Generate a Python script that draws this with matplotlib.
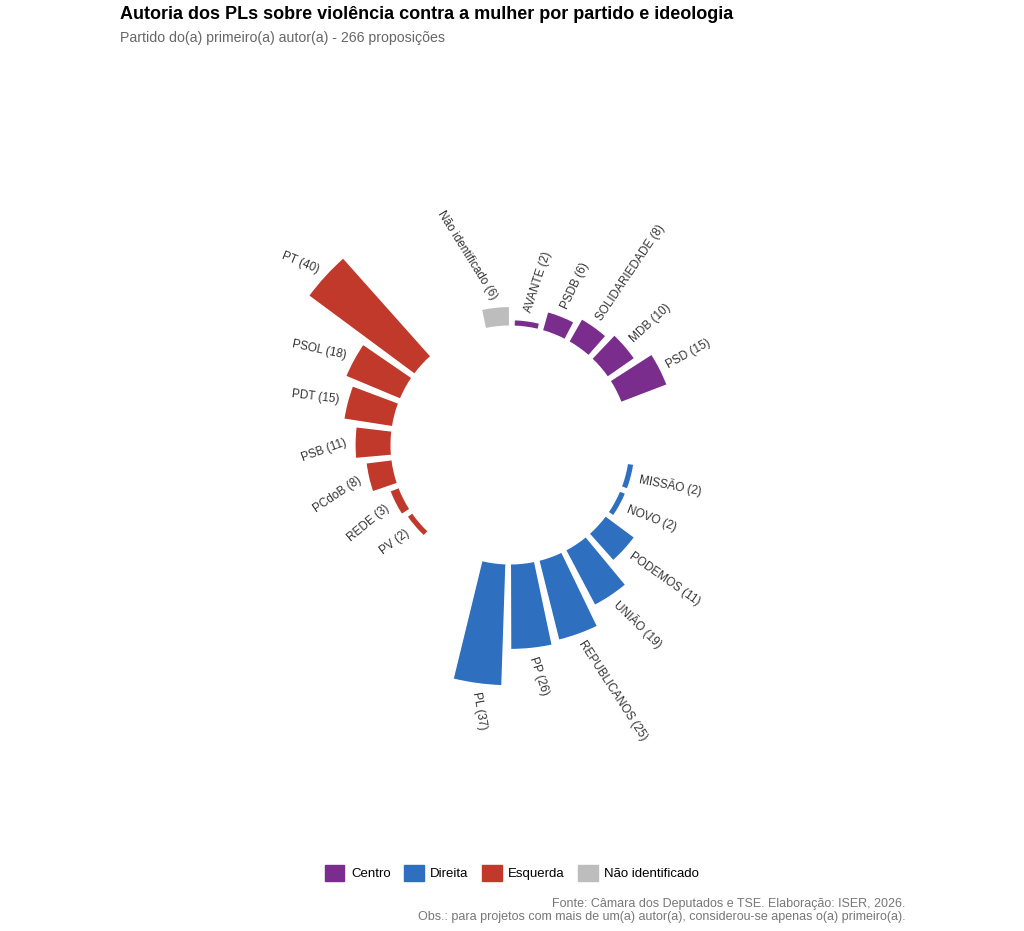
import numpy as np
import matplotlib
matplotlib.use("Agg")
import matplotlib.pyplot as plt
from matplotlib.patches import Patch

plt.rcParams["font.family"] = ["Liberation Sans", "DejaVu Sans"]

partidos = ["AVANTE", "PSDB", "SOLIDARIEDADE", "MDB", "PSD",
            "MISSÃO", "NOVO", "PODEMOS", "UNIÃO", "REPUBLICANOS", "PP", "PL",
            "PV", "REDE", "PCdoB", "PSB", "PDT", "PSOL", "PT",
            "Não identificado"]
valores = [2, 6, 8, 10, 15,
           2, 2, 11, 19, 25, 26, 37,
           2, 3, 8, 11, 15, 18, 40,
           6]
grupos = ["Centro"] * 5 + ["Direita"] * 7 + ["Esquerda"] * 7 + ["Não identificado"]
cores = {"Centro": "#7B2D8E", "Direita": "#2E6FBF",
         "Esquerda": "#C0392B", "Não identificado": "#BDBDBD"}
# // inclinacao dos rotulos (graus), como no grafico original
rotacoes = [72, 65, 56, 43, 29,
            -11, -21, -35, -44, -57, -72, -80,
            37, 40, 34, 20, -7, -12, -22,
            -58]

# // posicoes: dois espacos vazios depois de cada grupo
slots = []
pos = 0
for i, g in enumerate(grupos):
    if i > 0 and g != grupos[i - 1]:
        pos += 2
    slots.append(pos)
    pos += 1
n_slots = pos
passo = 2 * np.pi / n_slots
inicio = np.deg2rad(7.8)
angulos = inicio + np.array(slots) * passo

base = 36
fig = plt.figure(figsize=(10.24, 9.31), dpi=100)
R = 100
ax = fig.add_axes([(510 - 330) / 1024, (931 - 445 - 330) / 931, 660 / 1024, 660 / 931],
                  projection="polar")
ax.set_theta_zero_location("N")
ax.set_theta_direction(-1)
ax.set_ylim(0, R)
ax.axis("off")

ax.bar(angulos, valores, width=passo * 0.85, bottom=base,
       color=[cores[g] for g in grupos], edgecolor="white", linewidth=1)

for a, v, p, rot in zip(angulos, valores, partidos, rotacoes):
    graus = np.rad2deg(a) % 360
    ha = "left" if graus < 200 else "right"
    ax.text(a, base + v + 2.5, f"{p} ({v})", rotation=rot, rotation_mode="anchor",
            ha=ha, va="center", fontsize=8.5, color="#333333")

fig.text(120 / 1024, 1 - 6 / 931, "Autoria dos PLs sobre violência contra a mulher por partido e ideologia",
         fontsize=13, fontweight="bold", va="top")
fig.text(120 / 1024, 1 - 31 / 931, "Partido do(a) primeiro(a) autor(a) - 266 proposições",
         fontsize=10.2, color="#666666", va="top")

handles = [Patch(color=cores[k], label=k) for k in cores]
fig.legend(handles=handles, loc="center", bbox_to_anchor=(512 / 1024, 1 - 873 / 931),
           ncol=4, frameon=False, fontsize=9.5, handlelength=1.5, handleheight=1.5,
           columnspacing=1.0, handletextpad=0.5)

fig.text(905 / 1024, 1 - 904 / 931, "Fonte: Câmara dos Deputados e TSE. Elaboração: ISER, 2026.",
         ha="right", va="center", fontsize=9, color="#777777")
fig.text(905 / 1024, 1 - 917 / 931,
         "Obs.: para projetos com mais de um(a) autor(a), considerou-se apenas o(a) primeiro(a).",
         ha="right", va="center", fontsize=9, color="#777777")

fig.savefig("out.png", dpi=100)
